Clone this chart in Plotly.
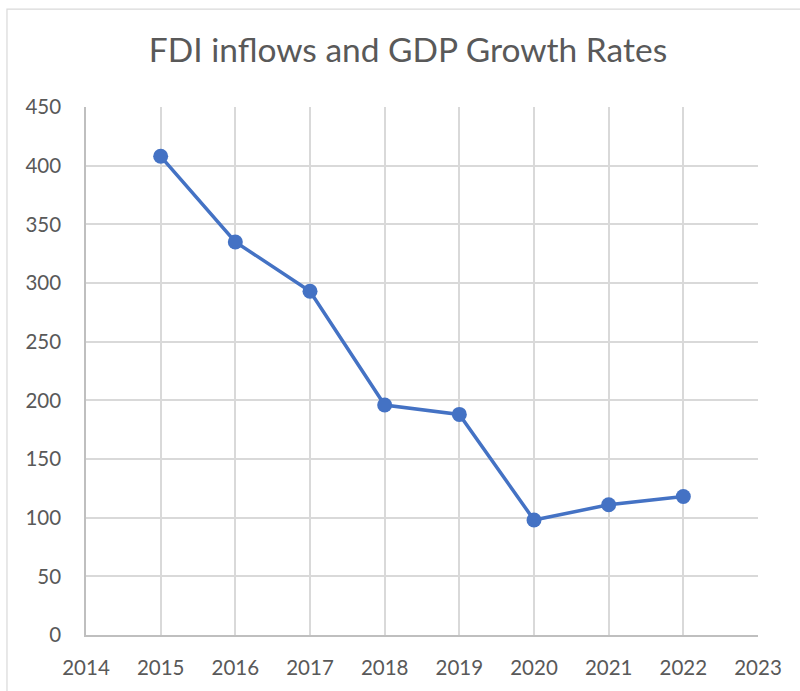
import plotly.graph_objects as go

# FDI inflows by year
years = [2015, 2016, 2017, 2018, 2019, 2020, 2021, 2022]
fdi_inflows = [408, 335, 293, 196, 188, 98, 111, 118]

x_ticks = list(range(2014, 2024))
y_ticks = list(range(0, 451, 50))

text_color = "#595959"
grid_color = "#d9d9d9"
line_color = "#4472C4"
font_family = "Lato, 'Open Sans', sans-serif"

fig = go.Figure()
fig.add_trace(go.Scatter(
    x=years,
    y=fdi_inflows,
    mode="lines+markers",
    line=dict(color=line_color, width=3.5),
    marker=dict(color=line_color, size=15),
    showlegend=False,
    cliponaxis=False,
))

fig.update_layout(
    width=800,
    height=691,
    margin=dict(l=86, r=42, t=107, b=51),
    paper_bgcolor="white",
    plot_bgcolor="white",
    font=dict(family=font_family, color=text_color, size=20.5),
    title=dict(
        text="FDI inflows and GDP Growth Rates",
        x=0.51,
        xanchor="center",
        y=0.927,
        yanchor="middle",
        font=dict(size=33.5, color=text_color, family=font_family),
    ),
    xaxis=dict(
        range=[2014, 2023],
        tickmode="array",
        tickvals=x_ticks,
        ticktext=[str(v) for v in x_ticks],
        showgrid=True,
        gridcolor=grid_color,
        gridwidth=1.5,
        showline=True,
        linecolor="#bfbfbf",
        linewidth=1.5,
        zeroline=False,
        ticks="",
        ticklabelstandoff=14,
        fixedrange=True,
    ),
    yaxis=dict(
        range=[0, 450],
        tickmode="array",
        tickvals=y_ticks,
        showgrid=True,
        gridcolor=grid_color,
        gridwidth=1.5,
        showline=True,
        linecolor="#bfbfbf",
        linewidth=1.5,
        zeroline=False,
        ticks="",
        ticklabelstandoff=19,
        fixedrange=True,
    ),
    shapes=[
        # chart-area frame
        dict(
            type="rect",
            xref="paper", yref="paper",
            x0=-0.1176, x1=1.08,
            y0=-0.13, y1=1.1853,
            line=dict(color="#d9d9d9", width=1.2),
            fillcolor="rgba(0,0,0,0)",
            layer="below",
        )
    ],
)

fig.write_html("out.html")
